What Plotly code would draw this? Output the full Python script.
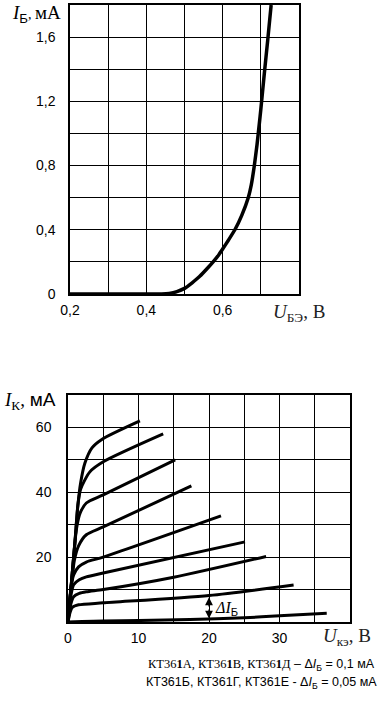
import plotly.graph_objects as go

# ---- Top chart: input characteristic I_B(U_BE) ----
ube = [0.20, 0.30, 0.40, 0.44, 0.46, 0.48, 0.50, 0.52, 0.54, 0.56, 0.575, 0.59, 0.60, 0.615, 0.632, 0.65, 0.667,
       0.675, 0.683, 0.69, 0.696, 0.700, 0.709, 0.718, 0.727]
ib = [0.0, 0.0, 0.0, 0.0, 0.004, 0.015, 0.035, 0.07, 0.11, 0.16, 0.2, 0.245, 0.28, 0.335, 0.4, 0.49, 0.6,
      0.68, 0.8, 0.93, 1.06, 1.15, 1.37, 1.58, 1.8]

top_x_ticks = [0.2, 0.3, 0.4, 0.5, 0.6, 0.7, 0.8]
top_x_text = ["0,2", "", "0,4", "", "0,6", "", ""]
top_y_ticks = [0, 0.2, 0.4, 0.6, 0.8, 1.0, 1.2, 1.4, 1.6, 1.8]
top_y_text = ["0", "", "0,4", "", "0,8", "", "1,2", "", "1,6", ""]

# ---- Bottom chart: output characteristics I_K(U_KE) ----
c1_u = [0, 0.6, 1.0, 1.4, 1.8, 2.4, 3.4, 4.8, 10.2]
c1_i = [0, 15, 25, 36, 43, 49, 53.7, 56.3, 62]
c2_u = [0, 0.6, 1.0, 1.4, 1.8, 3.1, 5, 13.5]
c2_i = [0, 15, 25, 36, 41, 46.3, 49.4, 58]
c3_u = [0, 0.6, 1.0, 1.3, 1.7, 2.6, 5, 15.2]
c3_i = [0, 15, 25, 30, 33.5, 36.7, 39.2, 50]
c4_u = [0, 0.5, 0.9, 1.5, 2.6, 5, 17.5]
c4_i = [0, 12, 19, 23.5, 26.9, 29.3, 42]
c5_u = [0, 0.4, 0.8, 1.5, 2.6, 5, 21.7]
c5_i = [0, 10, 14.5, 17, 18.5, 20, 32.7]
c6_u = [0, 0.4, 0.8, 1.6, 2.6, 5, 25.1]
c6_i = [0, 8, 11.5, 13, 13.9, 15.1, 24.7]
c7_u = [0, 0.4, 0.8, 1.6, 2.6, 5, 15, 28.1]
c7_i = [0, 5.5, 7.8, 8.8, 9.3, 10, 13.8, 20.2]
c8_u = [0, 0.3, 0.6, 1.5, 5, 20, 32]
c8_i = [0, 3, 4.5, 5.3, 5.9, 8.2, 11.4]
c9_u = [0, 2, 5, 10, 17.3, 25, 30, 36.7]
c9_i = [0, 0.15, 0.3, 0.45, 0.8, 1.3, 1.9, 2.7]
curves_u = [c1_u, c2_u, c3_u, c4_u, c5_u, c6_u, c7_u, c8_u, c9_u]
curves_i = [c1_i, c2_i, c3_i, c4_i, c5_i, c6_i, c7_i, c8_i, c9_i]

bot_x_ticks = [0, 5, 10, 15, 20, 25, 30, 35, 40]
bot_x_text = ["0", "", "10", "", "20", "", "30", "", ""]
bot_y_ticks = [0, 10, 20, 30, 40, 50, 60, 70]
bot_y_text = ["", "", "20", "", "40", "", "60", ""]

# delta I_B arrow (between curve 9 and curve 8 at U = 20 V)
arrow_u = 20
arrow_lo = 1.1
arrow_hi = 7.6
arrow_mid = 4.3

W, H = 382, 711
SANS = "Liberation Sans, Arial, sans-serif"
SERIF = "Liberation Serif, Times New Roman, serif"

fig = go.Figure()
fig.add_trace(go.Scatter(x=ube, y=ib, mode="lines", line=dict(color="black", width=3.5, shape="spline", smoothing=0.3),
                         xaxis="x", yaxis="y", showlegend=False, hoverinfo="skip"))
for u, i in zip(curves_u, curves_i):
    fig.add_trace(go.Scatter(x=u, y=i, mode="lines", line=dict(color="black", width=3, shape="spline", smoothing=0.7),
                             xaxis="x2", yaxis="y2", showlegend=False, hoverinfo="skip"))

def px_x(p):
    return p / W

def px_y(p):
    return 1 - p / H

axis_common = dict(showline=True, mirror=True, linecolor="black", linewidth=1.5,
                   showgrid=True, gridcolor="black", gridwidth=1.3, zeroline=False, automargin=False,
                   ticks="", tickmode="array", tickfont=dict(family=SANS, size=14, color="black"),
                   fixedrange=True)

fig.update_layout(
    template="none",
    width=W, height=H,
    margin=dict(l=0, r=0, t=0, b=0, pad=0),
    paper_bgcolor="white", plot_bgcolor="white",
    xaxis=dict(axis_common, domain=[px_x(70), px_x(299)], range=[0.2, 0.8], anchor="y",
               tickvals=top_x_ticks, ticktext=top_x_text, ticklabelstandoff=2),
    yaxis=dict(axis_common, domain=[px_y(294), px_y(5)], range=[0, 1.8], anchor="x",
               tickvals=top_y_ticks, ticktext=top_y_text, ticklabelstandoff=10),
    xaxis2=dict(axis_common, domain=[px_x(68), px_x(350)], range=[0, 40], anchor="y2",
                tickvals=bot_x_ticks, ticktext=bot_x_text, ticklabelstandoff=2),
    yaxis2=dict(axis_common, domain=[px_y(622), px_y(395)], range=[0, 70], anchor="x2",
                tickvals=bot_y_ticks, ticktext=bot_y_text, ticklabelstandoff=12),
)

ann = []
# axis titles
ann.append(dict(text="<i>I</i><sub><span style='font-family:Liberation Sans'>Б</span></sub><span style='font-size:14px'>, </span>мА",
                x=px_x(10), y=px_y(14), xref="paper", yref="paper", xanchor="left", yanchor="middle",
                showarrow=False, font=dict(family=SERIF, size=19, color="black")))
ann.append(dict(text="<i>U</i><sub>БЭ</sub>, В",
                x=px_x(271), y=px_y(313), xref="paper", yref="paper", xanchor="left", yanchor="middle",
                showarrow=False, font=dict(family=SERIF, size=19, color="#222")))
ann.append(dict(text="<i>I</i><sub>К</sub>, <span style='font-family:Liberation Sans'>мА</span>",
                x=px_x(2), y=px_y(401), xref="paper", yref="paper", xanchor="left", yanchor="middle",
                showarrow=False, font=dict(family=SERIF, size=19, color="black")))
ann.append(dict(text="<i>U</i><sub>кэ</sub>, В",
                x=px_x(321), y=px_y(637), xref="paper", yref="paper", xanchor="left", yanchor="middle",
                showarrow=False, font=dict(family=SERIF, size=19, color="#222")))

# delta I_B arrows
for tip in (arrow_hi, arrow_lo):
    ann.append(dict(x=arrow_u, y=tip, ax=arrow_u, ay=arrow_mid, xref="x2", yref="y2", axref="x2", ayref="y2",
                    showarrow=True, arrowhead=2, arrowsize=1.2, arrowwidth=1.3, arrowcolor="black", text=""))
ann.append(dict(text="<i>ΔI</i><sub><span style='font-family:Liberation Sans'>Б</span></sub>",
                x=20.6, y=arrow_mid, xref="x2", yref="y2", xanchor="left", yanchor="middle",
                showarrow=False, font=dict(family=SERIF, size=16, color="black")))

# notes
ann.append(dict(text="<span style='font-family:Liberation Serif'>КТ36<b>1</b>А, КТ36<b>1</b>В, КТ36<b>1</b>Д</span> – Δ<i>I</i><sub>Б</sub> = 0,1 мА",
                x=px_x(377), y=px_y(665), xref="paper", yref="paper", xanchor="right", yanchor="middle",
                showarrow=False, font=dict(family=SANS, size=12.5, color="black")))
ann.append(dict(text="КТ361Б, КТ361Г, КТ361Е - Δ<i>I</i><sub>Б</sub> = 0,05 мА",
                x=px_x(379), y=px_y(683), xref="paper", yref="paper", xanchor="right", yanchor="middle",
                showarrow=False, font=dict(family=SANS, size=12.5, color="black")))

fig.update_layout(annotations=ann)
fig.write_html("out.html", config={"displayModeBar": False},
               post_script="document.body.style.margin='0';document.body.style.overflow='hidden';")
